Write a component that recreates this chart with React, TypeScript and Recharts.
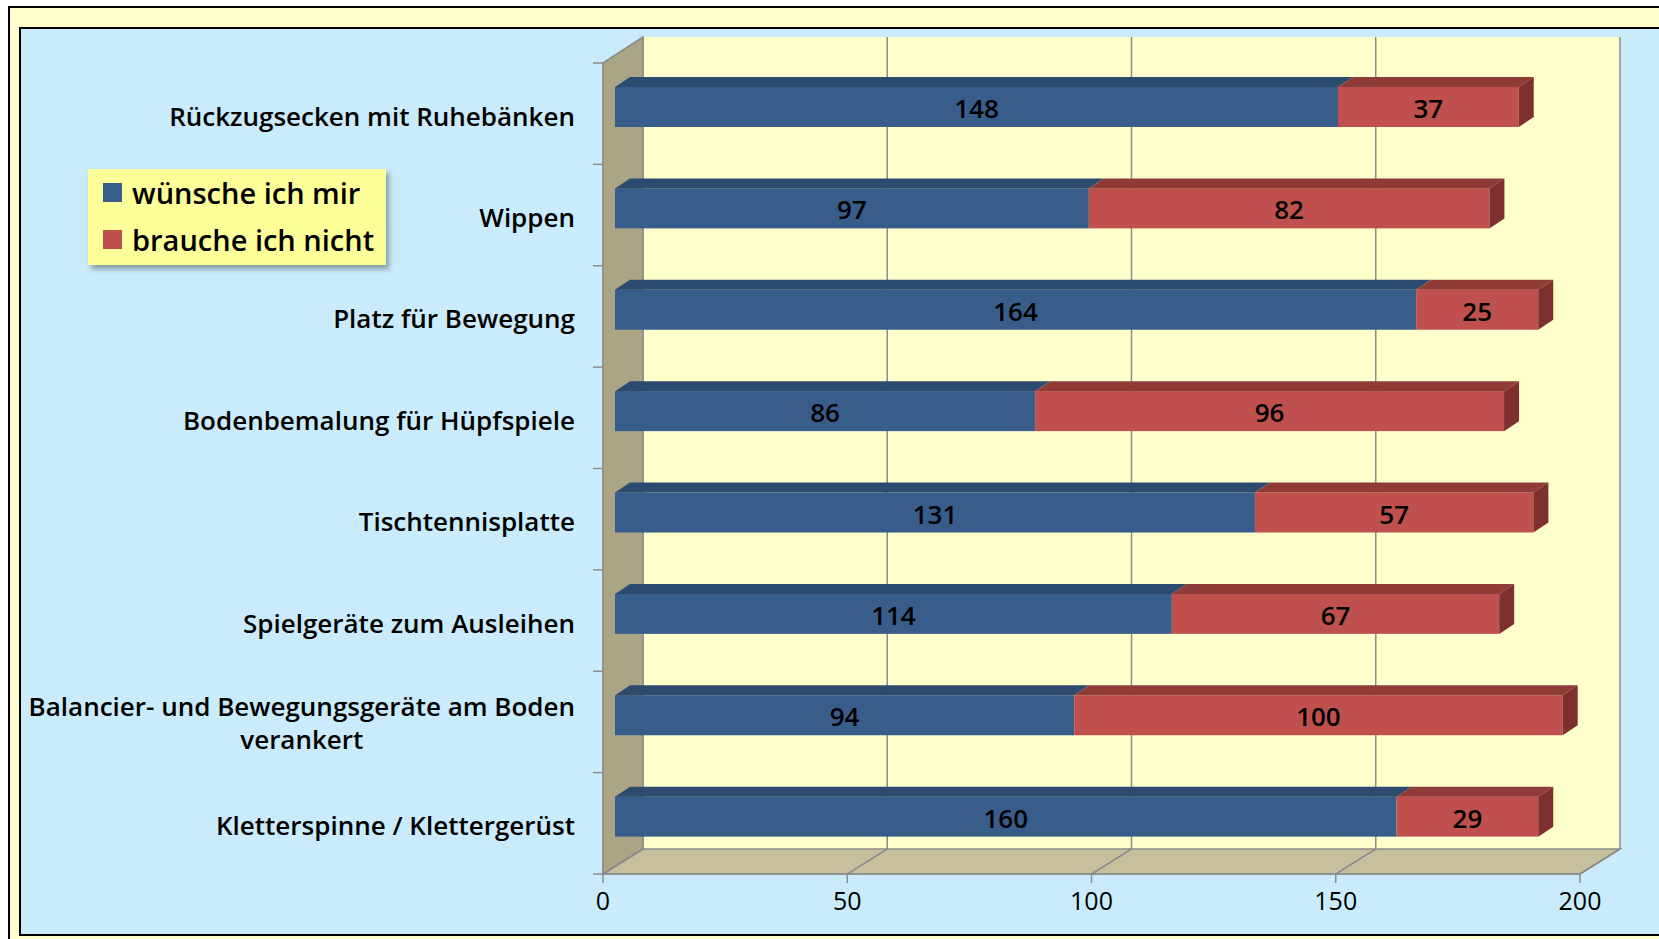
import React from "react";
import {
  BarChart,
  Bar,
  XAxis,
  YAxis,
  ReferenceArea,
  LabelList,
} from "recharts";

const categories = [
  "Rückzugsecken mit Ruhebänken",
  "Wippen",
  "Platz für Bewegung",
  "Bodenbemalung für Hüpfspiele",
  "Tischtennisplatte",
  "Spielgeräte zum Ausleihen",
  "Balancier- und Bewegungsgeräte am Boden\nverankert",
  "Kletterspinne / Klettergerüst",
];
const wuensche = [148, 97, 164, 86, 131, 114, 94, 160];
const brauche = [37, 82, 25, 96, 57, 67, 100, 29];
const seriesNames = ["wünsche ich mir", "brauche ich nicht"];
const xTicks = [0, 50, 100, 150, 200];

const FONT = "'Open Sans', Lato, sans-serif";
const BLUE = "#395d8b";
const BLUE_TOP = "#2d4a6f";
const RED = "#c0504d";
const RED_TOP = "#8f3c39";
const RED_SIDE = "#7e302e";
const GRID = "#8c8c8c";

// 3d offsets: whole depth of the box, bar position inside it, bar depth
const DEPTH_X = 40;
const DEPTH_Y = -25;
const SHIFT_X = 12;
const SHIFT_Y = -7;
const BAR_DX = 15;
const BAR_DY = -10;

const data = categories.map((name, i) => ({
  name,
  wuensche: wuensche[i],
  brauche: brauche[i],
}));

const makeBar = (front: string, top: string, side?: string) => (props: any) => {
  const { x, y, width, height } = props;
  if (!width || width <= 0) return <g />;
  const x0 = x + SHIFT_X;
  const y0 = y + SHIFT_Y;
  const x1 = x0 + width;
  return (
    <g>
      <rect x={x0} y={y0} width={width} height={height} fill={front} />
      <polygon
        points={`${x0},${y0} ${x0 + BAR_DX},${y0 + BAR_DY} ${x1 + BAR_DX},${y0 + BAR_DY} ${x1},${y0}`}
        fill={top}
      />
      {side && (
        <polygon
          points={`${x1},${y0} ${x1 + BAR_DX},${y0 + BAR_DY} ${x1 + BAR_DX},${y0 + height + BAR_DY} ${x1},${y0 + height}`}
          fill={side}
        />
      )}
    </g>
  );
};

const BlueBar = makeBar(BLUE, BLUE_TOP);
const RedBar = makeBar(RED, RED_TOP, RED_SIDE);

const ValueLabel = (props: any) => {
  const { x, y, width, height, value } = props;
  return (
    <text
      x={x + width / 2 + SHIFT_X}
      y={y + height / 2 + SHIFT_Y + 1}
      textAnchor="middle"
      dominantBaseline="central"
      fontFamily={FONT}
      fontWeight={600}
      fontSize={26}
      fill="#000"
    >
      {value}
    </text>
  );
};

// back wall, left wall and floor of the 3d box
const Walls = (props: any) => {
  const { x, y, width, height } = props;
  const b = y + height;
  const r = x + width;
  return (
    <g>
      <rect
        x={x + DEPTH_X}
        y={y + DEPTH_Y - 1}
        width={width}
        height={height + 1}
        fill="#ffffcc"
      />
      <polygon
        points={`${x},${y} ${x + DEPTH_X},${y + DEPTH_Y - 1} ${x + DEPTH_X},${b + DEPTH_Y} ${x},${b}`}
        fill="#aaa685"
        stroke={GRID}
        strokeWidth={1.5}
      />
      <polygon
        points={`${x},${b} ${x + DEPTH_X},${b + DEPTH_Y} ${r + DEPTH_X},${b + DEPTH_Y} ${r},${b}`}
        fill="#c6c19c"
        stroke={GRID}
        strokeWidth={1.5}
      />
    </g>
  );
};

// one gridline: vertical on the back wall plus diagonal on the floor
const GridLine = (props: any) => {
  const { x, y, height } = props;
  const b = y + height;
  return (
    <g>
      <line
        x1={x + DEPTH_X}
        y1={y + DEPTH_Y - 1}
        x2={x + DEPTH_X}
        y2={b + DEPTH_Y}
        stroke={GRID}
        strokeWidth={1.5}
      />
      <line x1={x} y1={b} x2={x + DEPTH_X} y2={b + DEPTH_Y} stroke={GRID} strokeWidth={1.5} />
    </g>
  );
};

let measureCtx: CanvasRenderingContext2D | null = null;
const measure = (s: string, size: number) => {
  if (!measureCtx) measureCtx = document.createElement("canvas").getContext("2d");
  if (!measureCtx) return s.length * size * 0.55;
  measureCtx.font = `600 ${size}px ${FONT}`;
  return measureCtx.measureText(s).width;
};

const CategoryTick = (props: any) => {
  const { x, y, payload } = props;
  const half = payload?.offset || 50.7;
  const ax = x + 8;
  const lines = String(payload.value).split("\n");
  const size = 26;
  const right = ax - 28;
  const tickLines = (
    <g>
      <line x1={ax - 10} y1={y - half} x2={ax} y2={y - half} stroke={GRID} strokeWidth={1.5} />
      {payload.index === categories.length - 1 && (
        <line x1={ax - 10} y1={y + half} x2={ax} y2={y + half} stroke={GRID} strokeWidth={1.5} />
      )}
    </g>
  );
  if (lines.length === 1) {
    return (
      <g>
        {tickLines}
        <text
          x={right}
          y={y + 2}
          textAnchor="end"
          dominantBaseline="central"
          fontFamily={FONT}
          fontWeight={600}
          fontSize={size}
          fill="#000"
        >
          {lines[0]}
        </text>
      </g>
    );
  }
  const w = Math.max(...lines.map((l) => measure(l, size)));
  const cx = right - w / 2;
  return (
    <g>
      {tickLines}
      {lines.map((l, i) => (
        <text
          key={i}
          x={cx}
          y={y - 16 + i * 33}
          textAnchor="middle"
          dominantBaseline="central"
          fontFamily={FONT}
          fontWeight={600}
          fontSize={size}
          fill="#000"
        >
          {l}
        </text>
      ))}
    </g>
  );
};

export default function App() {
  return (
    <div
      style={{
        position: "absolute",
        left: 0,
        top: 0,
        width: 1659,
        height: 939,
        overflow: "hidden",
        background: "#fff",
      }}
    >
      <div
        style={{
          position: "absolute",
          left: 8,
          top: 6,
          width: 1700,
          height: 1000,
          background: "#ffffcc",
          border: "2px solid #000",
        }}
      />
      <div
        style={{
          position: "absolute",
          left: 19,
          top: 27,
          width: 1700,
          height: 905,
          background: "#c9ebfb",
          border: "2px solid #000",
        }}
      />
      <div style={{ position: "absolute", left: 0, top: 0 }}>
        <BarChart
          width={1659}
          height={939}
          data={data}
          layout="vertical"
          barSize={40}
          margin={{ top: 63, right: 79, left: 0, bottom: 20 }}
        >
          <ReferenceArea x1={0} x2={200} shape={Walls} ifOverflow="visible" />
          {xTicks.map((v) => (
            <ReferenceArea key={v} x1={v} x2={v} shape={GridLine} ifOverflow="visible" />
          ))}
          <XAxis
            type="number"
            domain={[0, 200]}
            ticks={xTicks}
            height={45}
            stroke={GRID}
            strokeWidth={1.5}
            tickSize={9}
            tickMargin={9}
            tick={{ fill: "#000", fontSize: 25, fontFamily: FONT, fontWeight: 500 }}
          />
          <YAxis
            type="category"
            dataKey="name"
            width={603}
            stroke={GRID}
            strokeWidth={1.5}
            tickLine={false}
            tick={CategoryTick}
            interval={0}
          />
          <Bar
            dataKey="wuensche"
            name={seriesNames[0]}
            stackId="a"
            fill={BLUE}
            shape={BlueBar}
            isAnimationActive={false}
          >
            <LabelList dataKey="wuensche" content={ValueLabel} />
          </Bar>
          <Bar
            dataKey="brauche"
            name={seriesNames[1]}
            stackId="a"
            fill={RED}
            shape={RedBar}
            isAnimationActive={false}
          >
            <LabelList dataKey="brauche" content={ValueLabel} />
          </Bar>
        </BarChart>
      </div>
      <div
        style={{
          position: "absolute",
          left: 88,
          top: 169,
          width: 298,
          height: 96,
          background: "#ffff99",
          boxShadow: "3px 4px 5px rgba(60,60,60,0.45)",
          fontFamily: FONT,
          fontWeight: 600,
          fontSize: 29,
          color: "#000",
        }}
      >
        {seriesNames.map((n, i) => (
          <div
            key={n}
            style={{
              position: "absolute",
              left: 15,
              top: 6 + i * 47,
              display: "flex",
              alignItems: "center",
              whiteSpace: "nowrap",
              height: 34,
            }}
          >
            <span
              style={{
                display: "inline-block",
                width: 19,
                height: 19,
                background: i === 0 ? BLUE : RED,
                marginRight: 10,
              }}
            />
            {n}
          </div>
        ))}
      </div>
    </div>
  );
}
